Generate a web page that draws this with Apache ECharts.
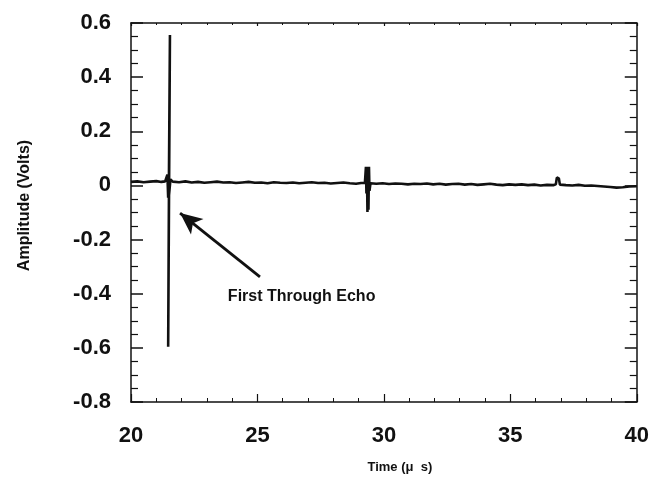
<!DOCTYPE html>
<html>
<head>
<meta charset="utf-8">
<title>First Through Echo</title>
<script src="https://cdn.jsdelivr.net/npm/echarts@6/dist/echarts.min.js"></script>
<style>
  html, body { margin: 0; padding: 0; background: #fff; }
  #main { width: 652px; height: 479px; }
</style>
</head>
<body>
<div id="main"></div>
<script>
// waveform: time in microseconds, amplitude in volts
var timeUs = [
  20.00, 20.25, 20.50, 20.75, 21.00, 21.20, 21.35, 21.44, 21.47, 21.50,
  21.54, 21.47, 21.50, 21.56, 21.65, 21.90, 22.15, 22.40, 22.65, 22.90,
  23.15, 23.40, 23.65, 23.90, 24.15, 24.40, 24.65, 24.90, 25.15, 25.40,
  25.65, 25.90, 26.15, 26.40, 26.65, 26.90, 27.15, 27.40, 27.65, 27.90,
  28.15, 28.40, 28.65, 28.90, 29.10, 29.25, 29.29, 29.31, 29.33, 29.35,
  29.37, 29.39, 29.41, 29.43, 29.47, 29.70, 29.95, 30.20, 30.45, 30.70,
  30.95, 31.20, 31.45, 31.70, 31.95, 32.20, 32.45, 32.70, 32.95, 33.20,
  33.45, 33.70, 33.95, 34.20, 34.45, 34.70, 34.95, 35.20, 35.45, 35.70,
  35.95, 36.20, 36.45, 36.70, 36.80, 36.84, 36.88, 36.92, 36.96, 37.20,
  37.45, 37.70, 37.95, 38.20, 38.45, 38.70, 38.95, 39.20, 39.45, 39.70,
  40.00
];
var amplitudeV = [
  0.013, 0.015, 0.012, 0.014, 0.016, 0.013, 0.015, 0.040, -0.045, 0.030,
  0.556, -0.596, -0.040, 0.022, 0.014, 0.012, 0.015, 0.011, 0.013, 0.010,
  0.012, 0.014, 0.011, 0.012, 0.009, 0.011, 0.013, 0.010, 0.011, 0.008,
  0.012, 0.010, 0.009, 0.011, 0.008, 0.010, 0.012, 0.009, 0.010, 0.007,
  0.009, 0.011, 0.008, 0.006, 0.009, 0.010, 0.069, -0.030, 0.069, -0.098,
  0.069, -0.090, 0.069, -0.020, 0.008, 0.006, 0.008, 0.005, 0.007, 0.006,
  0.004, 0.006, 0.005, 0.007, 0.004, 0.006, 0.003, 0.005, 0.006, 0.003,
  0.005, 0.002, 0.004, 0.006, 0.003, 0.001, 0.004, 0.002, 0.004, 0.001,
  0.003, 0.000, 0.002, 0.001, 0.004, 0.029, 0.032, 0.026, 0.003, 0.001,
  0.000, 0.002, -0.001, 0.000, -0.002, -0.004, -0.006, -0.008, -0.007, -0.004,
  -0.003
];

// annotation: arrow tail -> tip, and where the caption starts
var arrowFrom = [25.10, -0.338];
var arrowTo = [21.94, -0.102];
var captionAt = [23.83, -0.41];
var caption = 'First Through Echo';

var xTicks = { min: 20, max: 40, step: 5 };
var yTicks = { min: -0.8, max: 0.6, step: 0.2 };

var ink = '#111';
var font = '"Liberation Sans", Arial, Helvetica, sans-serif';

var points = timeUs.map(function (t, i) { return [t, amplitudeV[i]]; });

var myChart = echarts.init(document.getElementById('main'));

function xAxisBase(pos) {
  return {
    type: 'value',
    position: pos,
    min: xTicks.min,
    max: xTicks.max,
    interval: xTicks.step,
    axisLine: { show: true, onZero: false, lineStyle: { color: ink, width: 1.5 } },
    axisTick: { show: true, inside: true, length: 8, lineStyle: { color: ink, width: 1.2 } },
    minorTick: { show: true, splitNumber: 5, length: 4, lineStyle: { color: ink, width: 1 } },
    splitLine: { show: false },
    minorSplitLine: { show: false }
  };
}

function yAxisBase(pos) {
  return {
    type: 'value',
    position: pos,
    min: yTicks.min,
    max: yTicks.max,
    interval: yTicks.step,
    axisLine: { show: true, onZero: false, lineStyle: { color: ink, width: 1.5 } },
    axisTick: { show: true, inside: true, length: 12, lineStyle: { color: ink, width: 1.5 } },
    minorTick: { show: true, splitNumber: 4, length: 7, lineStyle: { color: ink, width: 1.2 } },
    splitLine: { show: false },
    minorSplitLine: { show: false }
  };
}

var xBottom = xAxisBase('bottom');
xBottom.axisLabel = { margin: 23, color: ink, fontSize: 22, fontWeight: 'bold', fontFamily: font };
xBottom.name = 'Time (\u03bc  s)';
xBottom.nameLocation = 'middle';
xBottom.nameGap = 59;
xBottom.nameTextStyle = { color: ink, fontSize: 13, fontWeight: 'bold', fontFamily: font, padding: [0, 0, 0, 32] };

var xTop = xAxisBase('top');
xTop.axisLabel = { show: false };
xTop.axisTick.length = 3;
xTop.minorTick.length = 2;

var yLeft = yAxisBase('left');
yLeft.axisLabel = {
  margin: 20, color: ink, fontSize: 22, fontWeight: 'bold', fontFamily: font,
  formatter: function (v) { return String(Math.round(v * 10) / 10); }
};
yLeft.name = 'Amplitude (Volts)';
yLeft.nameLocation = 'middle';
yLeft.nameGap = 98;
yLeft.nameRotate = 90;
yLeft.nameTextStyle = { color: ink, fontSize: 16, fontWeight: 'bold', fontFamily: font, padding: [0, 0, 0, 14] };

var yRight = yAxisBase('right');
yRight.axisLabel = { show: false };

myChart.setOption({
  backgroundColor: '#fff',
  animation: false,
  grid: { left: 131, right: 15, top: 23, bottom: 73 },
  xAxis: [xBottom, xTop],
  yAxis: [yLeft, yRight],
  series: [{
    type: 'line',
    xAxisIndex: 0,
    yAxisIndex: 0,
    data: points,
    showSymbol: false,
    smooth: false,
    lineStyle: { color: ink, width: 2.6 },
    markLine: {
      silent: true,
      symbol: ['none', 'arrow'],
      symbolSize: [15, 22],
      label: { show: false },
      lineStyle: { color: ink, width: 2.8, type: 'solid' },
      data: [[{ coord: arrowFrom }, { coord: arrowTo }]]
    },
    markPoint: {
      silent: true,
      symbol: 'circle',
      symbolSize: 0,
      data: [{ coord: captionAt, value: caption }],
      label: {
        show: true,
        position: 'right',
        distance: 0,
        formatter: caption,
        color: ink,
        fontSize: 16,
        fontWeight: 'bold',
        fontFamily: font
      }
    }
  }]
});

window.addEventListener('resize', function () {
  myChart.resize();
});
</script>
</body>
</html>
